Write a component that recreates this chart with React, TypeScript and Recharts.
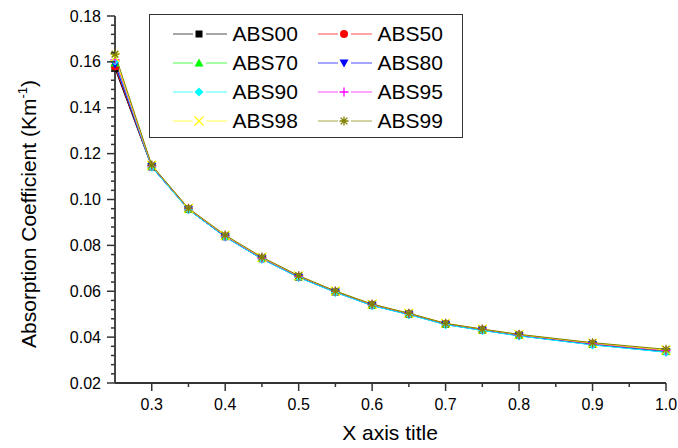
import { Legend, Line, LineChart, XAxis, YAxis } from "recharts";

// la page a une marge de 8px par défaut : on la retire pour caler le graphe sur 678x448
if (typeof document !== "undefined") document.body.style.margin = "0";

const FONT = "'Liberation Sans', Arial, sans-serif";
const AXIS = "#333";

const X = [0.25, 0.3, 0.35, 0.4, 0.45, 0.5, 0.55, 0.6, 0.65, 0.7, 0.75, 0.8, 0.9, 1.0];
const ABS00 = [0.1571, 0.1142, 0.0957, 0.0838, 0.0742, 0.0662, 0.0597, 0.0539, 0.05, 0.0456, 0.0431, 0.0407, 0.0369, 0.0337];
const ABS50 = [0.158, 0.1144, 0.0958, 0.0839, 0.0743, 0.0663, 0.0598, 0.054, 0.0501, 0.0457, 0.0432, 0.0408, 0.037, 0.0338];
const ABS70 = [0.1596, 0.1146, 0.0959, 0.084, 0.0744, 0.0664, 0.0599, 0.0541, 0.0502, 0.0458, 0.0433, 0.0409, 0.0371, 0.0339];
const ABS80 = [0.159, 0.1143, 0.0956, 0.0837, 0.0741, 0.0661, 0.0596, 0.0538, 0.0499, 0.0455, 0.043, 0.0406, 0.0367, 0.0335];
const ABS90 = [0.1604, 0.1141, 0.0955, 0.0836, 0.074, 0.066, 0.0595, 0.0537, 0.0498, 0.0454, 0.0429, 0.0405, 0.0366, 0.0334];
const ABS95 = [0.161, 0.1147, 0.096, 0.0841, 0.0745, 0.0665, 0.06, 0.0542, 0.0503, 0.0459, 0.0434, 0.041, 0.0372, 0.0341];
const ABS98 = [0.162, 0.1149, 0.0961, 0.0843, 0.0747, 0.0667, 0.0601, 0.0543, 0.0504, 0.046, 0.0435, 0.0411, 0.0374, 0.0344];
const ABS99 = [0.1634, 0.115, 0.0962, 0.0845, 0.0749, 0.0668, 0.0601, 0.0544, 0.0504, 0.046, 0.0435, 0.0412, 0.0376, 0.0347];

const NAMES = ["ABS00", "ABS50", "ABS70", "ABS80", "ABS90", "ABS95", "ABS98", "ABS99"];
const VALUES = [ABS00, ABS50, ABS70, ABS80, ABS90, ABS95, ABS98, ABS99];
const COLORS = ["#000000", "#ff0000", "#00ff00", "#0000ff", "#00ffff", "#ff00ff", "#ffff00", "#808000"];
const SHAPES = ["square", "circle", "up", "down", "diamond", "plus", "cross", "star"];

const X_MAJOR = [0.3, 0.4, 0.5, 0.6, 0.7, 0.8, 0.9, 1.0];
const X_MINOR = [0.35, 0.45, 0.55, 0.65, 0.75, 0.85, 0.95];
const Y_MAJOR = [0.02, 0.04, 0.06, 0.08, 0.1, 0.12, 0.14, 0.16, 0.18];
// graduations secondaires tous les 0.004 (4 entre deux majeures)
const Y_MINOR = Y_MAJOR.slice(0, -1).flatMap((t) => [1, 2, 3, 4].map((k) => +(t + k * 0.004).toFixed(3)));

const data = X.map((x, i) => {
  const row: Record<string, number> = { x };
  NAMES.forEach((n, j) => (row[n] = VALUES[j][i]));
  return row;
});

const isMajor = (list: number[], v: number) => list.some((t) => Math.abs(t - v) < 1e-6);

function Marker({ shape, color, cx, cy, s = 4.5 }: { shape: string; color: string; cx: number; cy: number; s?: number }) {
  switch (shape) {
    case "square":
      return <rect x={cx - s + 1} y={cy - s + 1} width={2 * s - 2} height={2 * s - 2} fill={color} />;
    case "circle":
      return <circle cx={cx} cy={cy} r={s - 0.5} fill={color} />;
    case "up":
      return <polygon points={`${cx},${cy - s} ${cx + s},${cy + s * 0.8} ${cx - s},${cy + s * 0.8}`} fill={color} />;
    case "down":
      return <polygon points={`${cx},${cy + s} ${cx + s},${cy - s * 0.8} ${cx - s},${cy - s * 0.8}`} fill={color} />;
    case "diamond":
      return <polygon points={`${cx},${cy - s} ${cx + s},${cy} ${cx},${cy + s} ${cx - s},${cy}`} fill={color} />;
    case "plus":
      return <path d={`M${cx - s},${cy}H${cx + s}M${cx},${cy - s}V${cy + s}`} stroke={color} strokeWidth={1.3} />;
    case "cross":
      return <path d={`M${cx - s},${cy - s}L${cx + s},${cy + s}M${cx - s},${cy + s}L${cx + s},${cy - s}`} stroke={color} strokeWidth={1.3} />;
    default:
      return (
        <path
          d={`M${cx - s},${cy}H${cx + s}M${cx},${cy - s}V${cy + s}M${cx - s * 0.75},${cy - s * 0.75}L${cx + s * 0.75},${cy + s * 0.75}M${cx - s * 0.75},${cy + s * 0.75}L${cx + s * 0.75},${cy - s * 0.75}`}
          stroke={color}
          strokeWidth={1.3}
        />
      );
  }
}

const XTick = ({ x, y, payload }: any) => {
  const v = payload.value as number;
  const major = isMajor(X_MAJOR, v);
  return (
    <g>
      <line x1={x} x2={x} y1={y} y2={y + (major ? 8 : 4)} stroke={AXIS} strokeWidth={1.5} />
      {major && (
        <text x={x} y={y + 27} textAnchor="middle" fontSize={16} fontFamily={FONT} fill="#000">
          {v.toFixed(1)}
        </text>
      )}
    </g>
  );
};

const YTick = ({ x, y, payload }: any) => {
  const v = payload.value as number;
  const major = isMajor(Y_MAJOR, v);
  return (
    <g>
      <line x1={x - (major ? 8 : 4)} x2={x} y1={y} y2={y} stroke={AXIS} strokeWidth={1.5} />
      {major && (
        <text x={x - 14} y={y + 5.5} textAnchor="end" fontSize={16} fontFamily={FONT} fill="#000">
          {v.toFixed(2)}
        </text>
      )}
    </g>
  );
};

const YTitle = () => (
  <text transform="translate(36,214) rotate(-90)" textAnchor="middle" fontSize={21} fontFamily={FONT} fill="#000">
    <tspan>Absorption Coefficient (Km</tspan>
    <tspan fontSize={13} dy={-9}>-1</tspan>
    <tspan dy={9}>)</tspan>
  </text>
);

const XTitle = () => (
  <text x={390} y={440} textAnchor="middle" fontSize={21} fontFamily={FONT} fill="#000">
    X axis title
  </text>
);

const ROWS = [20, 49, 78, 107];
const COLS = [24, 169];

const renderLegend = () => (
  <div style={{ position: "relative", width: 314, height: 124, boxSizing: "border-box", border: `1.5px solid ${AXIS}`, background: "#fff", fontFamily: FONT }}>
    {NAMES.map((n, i) => {
      const left = COLS[i % 2] - 1.5;
      const top = ROWS[Math.floor(i / 2)] - 1.5;
      return (
        <div key={n}>
          <svg style={{ position: "absolute", left, top: top - 10 }} width={54} height={20}>
            <line x1={0} x2={20} y1={10} y2={10} stroke={COLORS[i]} strokeOpacity={0.7} />
            <line x1={33} x2={54} y1={10} y2={10} stroke={COLORS[i]} strokeOpacity={0.7} />
            <Marker shape={SHAPES[i]} color={COLORS[i]} cx={26} cy={10} />
          </svg>
          <span style={{ position: "absolute", left: left + 60, top: top - 10.5, fontSize: 21, lineHeight: "21px", color: "#000", whiteSpace: "nowrap" }}>{n}</span>
        </div>
      );
    })}
  </div>
);

export default function App() {
  return (
    <div style={{ width: 678, height: 448, background: "#fff" }}>
      <LineChart width={678} height={448} data={data} margin={{ top: 16, right: 12, bottom: 0, left: 0 }}>
        <XAxis
          dataKey="x"
          type="number"
          domain={[0.25, 1]}
          ticks={[...X_MINOR, ...X_MAJOR]}
          interval={0}
          height={65}
          tickSize={0}
          tickMargin={0}
          tickLine={false}
          tick={XTick}
          axisLine={{ stroke: AXIS, strokeWidth: 1.8 }}
          label={<XTitle />}
        />
        <YAxis
          type="number"
          domain={[0.02, 0.18]}
          ticks={[...Y_MINOR, ...Y_MAJOR]}
          interval={0}
          width={115}
          tickSize={0}
          tickMargin={0}
          tickLine={false}
          tick={YTick}
          axisLine={{ stroke: AXIS, strokeWidth: 1.8 }}
          label={<YTitle />}
        />
        <Legend
          layout="horizontal"
          verticalAlign="middle"
          align="center"
          content={renderLegend}
          wrapperStyle={{ left: 149, top: 14, width: 314, height: 124 }}
        />
        {NAMES.map((n, i) => (
          <Line
            key={n}
            dataKey={n}
            stroke={COLORS[i]}
            strokeWidth={1}
            isAnimationActive={false}
            dot={(p: any) => <Marker key={`${n}-${p.index}`} shape={SHAPES[i]} color={COLORS[i]} cx={p.cx} cy={p.cy} />}
          />
        ))}
      </LineChart>
    </div>
  );
}
